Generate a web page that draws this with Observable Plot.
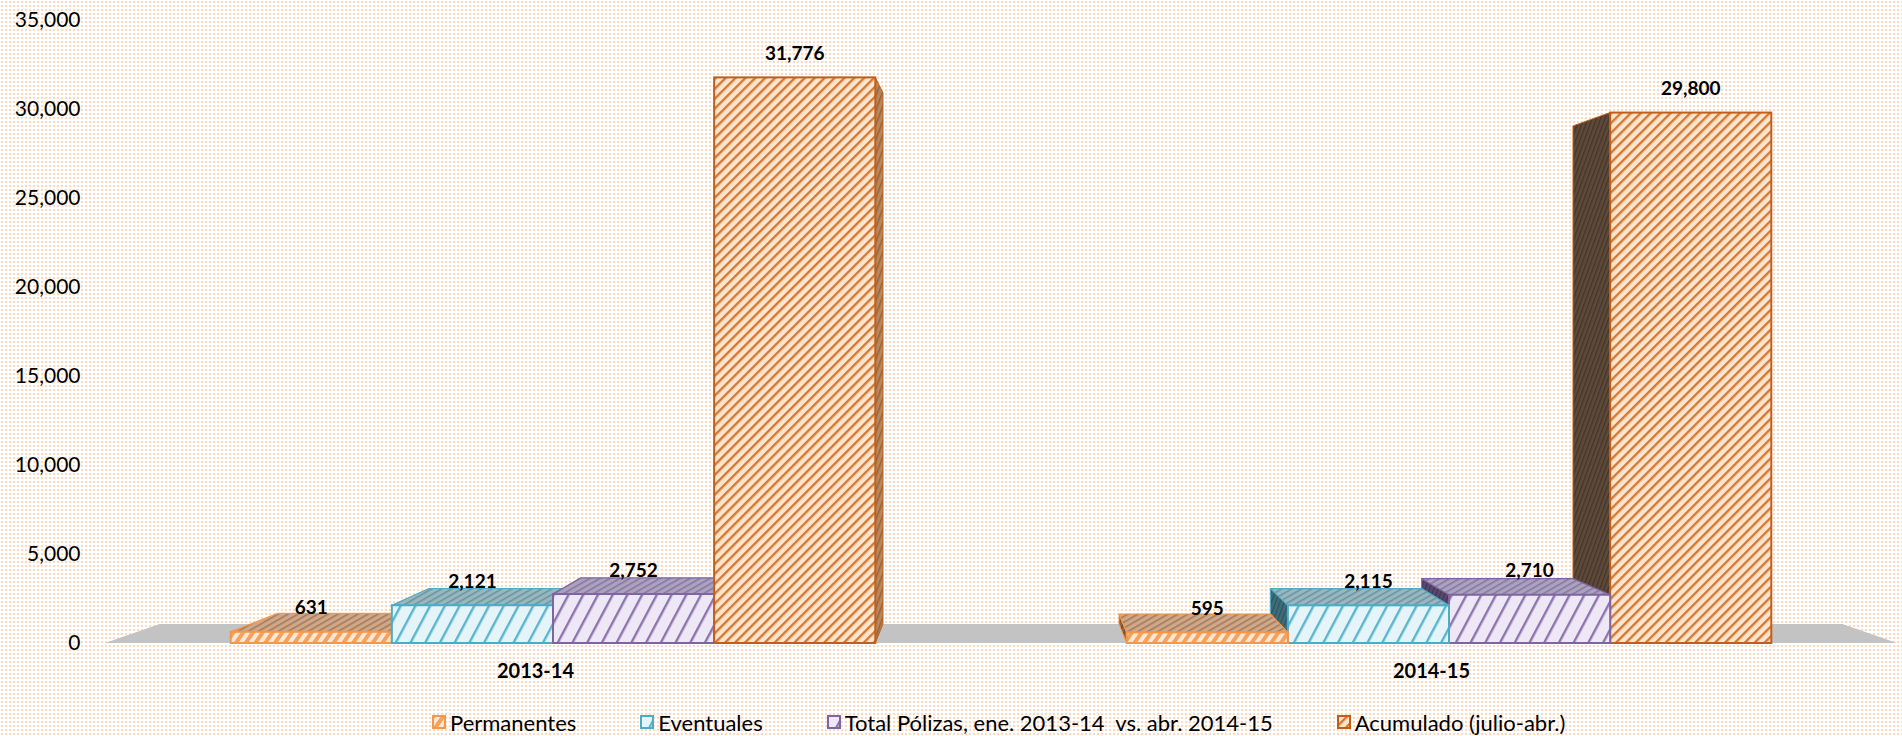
<!DOCTYPE html>
<html>
<head>
<meta charset="utf-8">
<script src="https://cdn.jsdelivr.net/npm/d3@7"></script>
<script src="https://cdn.jsdelivr.net/npm/@observablehq/plot@0.6"></script>
<style>
  html, body { margin: 0; padding: 0; }
  body {
    width: 1902px; height: 736px; overflow: hidden; position: relative;
    background-color: #ffffff;
    background-image: radial-gradient(circle, #fbd9c0 0.9px, transparent 1.4px);
    background-size: 4px 4px;
    font-family: Lato, "Open Sans", "Noto Sans", sans-serif;
  }
  #chart { position: absolute; left: 0; top: 0; }
  #legend {
    position: absolute; left: 432px; top: 708px; height: 28px;
    display: flex; align-items: center; gap: 64px;
    font-size: 22px; color: #000; white-space: pre;
  }
  .item { display: flex; align-items: center; gap: 4px; }
  .item svg { display: block; }
</style>
</head>
<body>
<svg width="0" height="0" style="position:absolute"><defs id="defs"></defs></svg>
<div id="chart"></div>
<div id="legend"></div>
<script>
// ---------------- data ----------------
const groups = ["2013-14", "2014-15"];
const series = [
  "Permanentes",
  "Eventuales",
  "Total Pólizas, ene. 2013-14  vs. abr. 2014-15",
  "Acumulado (julio-abr.)"
];
const values201314 = [631, 2121, 2752, 31776];
const values201415 = [595, 2115, 2710, 29800];
const yTicks = [0, 5000, 10000, 15000, 20000, 25000, 30000, 35000];

// ---------------- styles ----------------
const strokeColors = ["#f79646", "#4bacc6", "#8064a2", "#c25e17"];
const frontStyles = [
  {bg: "#fee7d5", fg: "#f6a25f", size: 8, w: 4, angle: 35},
  {bg: "#e4f4f8", fg: "#5bb5cc", size: 13, w: 2.4, angle: 28},
  {bg: "#eee8f6", fg: "#8d74ad", size: 13, w: 2.4, angle: 28},
  {bg: "#fde4cd", fg: "#d27a35", size: 7, w: 2.4, angle: 45}
];
const topStyles = [
  {bg: "#cfa88a", fg: "#a47b5a", size: 5, w: 1.6, angle: 60},
  {bg: "#98b8c1", fg: "#6c949f", size: 5, w: 1.6, angle: 60},
  {bg: "#aca2bf", fg: "#85799f", size: 5, w: 1.6, angle: 60},
  {bg: "#c89670", fg: "#a06c44", size: 5, w: 1.6, angle: 60}
];
const rightSideStyles = [
  {bg: "#c98e62", fg: "#a8704a", size: 5, w: 1.6, angle: 20},
  {bg: "#74a0ab", fg: "#57818c", size: 5, w: 1.6, angle: 20},
  {bg: "#9584ae", fg: "#76679a", size: 5, w: 1.6, angle: 20},
  {bg: "#b9875e", fg: "#96653f", size: 5, w: 1.6, angle: 20}
];
const leftSideStyles = [
  {bg: "#8e6444", fg: "#6f4b30", size: 4, w: 1.4, angle: 20},
  {bg: "#3f6e7b", fg: "#2f5560", size: 4, w: 1.4, angle: 20},
  {bg: "#58496f", fg: "#443757", size: 4, w: 1.4, angle: 20},
  {bg: "#5d4a3a", fg: "#463628", size: 4, w: 1.4, angle: 20}
];
const EYE_Y = 331;     // vertical vanishing point (px)
const DEPTH_K = 0.939; // perspective depth factor
const FONT = "Lato, 'Open Sans', 'Noto Sans', sans-serif";

// ---------------- patterns ----------------
const defs = d3.select("#defs");
function makePattern(id, s) {
  const p = defs.append("pattern")
    .attr("id", id).attr("patternUnits", "userSpaceOnUse")
    .attr("width", s.size).attr("height", s.size)
    .attr("patternTransform", `rotate(${s.angle})`);
  p.append("rect").attr("width", s.size).attr("height", s.size).attr("fill", s.bg);
  p.append("rect").attr("width", s.w).attr("height", s.size).attr("fill", s.fg);
}
frontStyles.forEach((s, i) => makePattern(`front-${i}`, s));
topStyles.forEach((s, i) => makePattern(`top-${i}`, s));
rightSideStyles.forEach((s, i) => makePattern(`rside-${i}`, s));
leftSideStyles.forEach((s, i) => makePattern(`lside-${i}`, s));

const valuesByGroup = [values201314, values201415];
const table = groups.flatMap((g, gi) => series.map((s, si) => ({group: g, series: s, value: valuesByGroup[gi][si]})));

// ---------------- 3D bars mark ----------------
function bars3d(index, scales) {
  const X = scales.x, Y = scales.y;
  const [r0, r1] = X.range();
  const vx = (r0 + r1) / 2;
  const proj = (px, py) => [vx + (px - vx) * DEPTH_K, EYE_Y + (py - EYE_Y) * DEPTH_K];
  const sub = d3.scaleBand(series, [0, X.bandwidth()]).paddingInner(0).paddingOuter(0.78);
  const g = d3.create("svg:g");
  const y0 = Y(0);
  const floor = [[r0, y0], [r1, y0], proj(r1, y0), proj(r0, y0)];
  g.append("polygon").attr("points", floor.join(" ")).attr("fill", "#c3c3c3");

  const bars = table.map(d => {
    const si = series.indexOf(d.series);
    const x0 = X(d.group) + sub(d.series), x1 = x0 + sub.bandwidth();
    return {si, value: d.value, x0, x1, yt: Y(d.value), dist: Math.max(vx - x1, x0 - vx)};
  });
  bars.sort((a, b) => b.dist - a.dist);
  for (const b of bars) {
    const {x0, x1, yt, si} = b;
    const col = strokeColors[si];
    if (x1 <= vx) {
      const pts = [[x1, yt], proj(x1, yt), proj(x1, y0), [x1, y0]];
      g.append("polygon").attr("points", pts.join(" ")).attr("fill", `url(#rside-${si})`)
        .attr("stroke", col).attr("stroke-width", 1).attr("stroke-linejoin", "round");
    } else if (x0 >= vx) {
      const pts = [[x0, yt], proj(x0, yt), proj(x0, y0), [x0, y0]];
      g.append("polygon").attr("points", pts.join(" ")).attr("fill", `url(#lside-${si})`)
        .attr("stroke", col).attr("stroke-width", 1).attr("stroke-linejoin", "round");
    }
    if (yt > EYE_Y) {
      const pts = [[x0, yt], [x1, yt], proj(x1, yt), proj(x0, yt)];
      g.append("polygon").attr("points", pts.join(" ")).attr("fill", `url(#top-${si})`)
        .attr("stroke", col).attr("stroke-width", 1.2).attr("stroke-linejoin", "round");
    }
    g.append("rect").attr("x", x0).attr("y", yt).attr("width", x1 - x0).attr("height", y0 - yt)
      .attr("fill", `url(#front-${si})`).attr("stroke", col).attr("stroke-width", 2);
  }
  for (const b of bars) {
    g.append("text").attr("x", (b.x0 + b.x1) / 2).attr("y", b.yt - 24).attr("dy", "0.35em")
      .attr("text-anchor", "middle").attr("font-weight", "bold").attr("font-size", 19)
      .attr("font-family", FONT).attr("fill", "#000")
      .text(d3.format(",")(b.value));
  }
  return g.node();
}

// ---------------- plot ----------------
const chart = Plot.plot({
  width: 1902,
  height: 700,
  marginTop: 20,
  marginBottom: 57,
  marginLeft: 105,
  marginRight: 5,
  style: {background: "transparent", fontSize: "21px", fontFamily: FONT, color: "#000", overflow: "visible"},
  x: {type: "band", domain: groups, padding: 0, axis: null},
  y: {domain: [0, 35000], ticks: yTicks, tickFormat: d3.format(","), tickSize: 0, tickPadding: 25, label: null},
  marks: [
    Plot.ruleY([0], {strokeOpacity: 0}),
    bars3d,
    Plot.text(groups, {x: d => d, frameAnchor: "bottom", dy: 34, dx: -18, fontWeight: "bold", fontSize: 20, fill: "#000"})
  ]
});
document.getElementById("chart").appendChild(chart);

// ---------------- legend ----------------
const legend = d3.select("#legend");
series.forEach((s, i) => {
  const item = legend.append("div").attr("class", "item");
  const sw = item.append("svg").attr("width", 14).attr("height", 14);
  sw.append("rect").attr("x", 1).attr("y", 1).attr("width", 12).attr("height", 12)
    .attr("fill", `url(#front-${i})`).attr("stroke", strokeColors[i]).attr("stroke-width", 2);
  item.append("span").text(s);
});
</script>
</body>
</html>
